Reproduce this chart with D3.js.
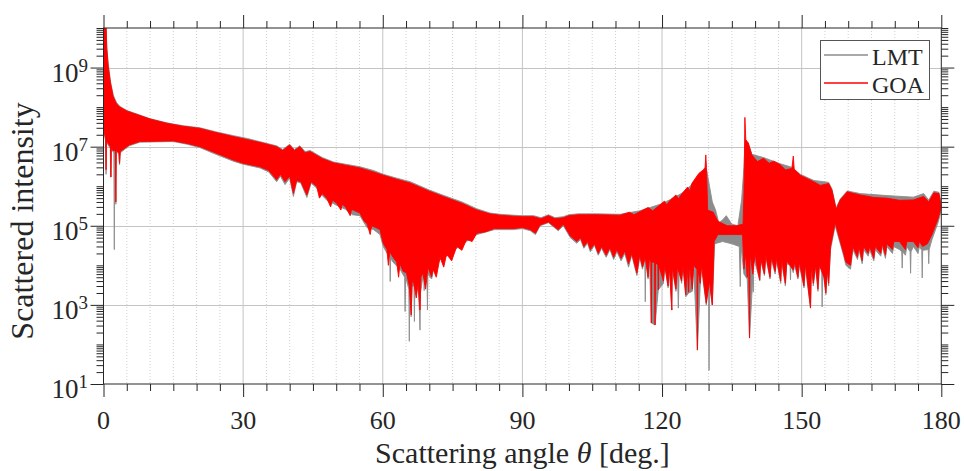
<!DOCTYPE html>
<html>
<head>
<meta charset="utf-8">
<script src="https://cdn.jsdelivr.net/npm/d3@7"></script>
<style>
  html, body { margin: 0; padding: 0; background: #fff; }
  svg { display: block; }
  text { font-family: "Liberation Serif", "Times New Roman", serif; fill: #262626; }
</style>
</head>
<body>
<div id="chart"></div>
<script>
// -------- Data (angle in deg, scattered intensity) --------
// the curves oscillate too fast to resolve, so each series is kept as its
// upper and lower envelope (spikes included)
const xTickLabels = [0, 30, 60, 90, 120, 150, 180];
const yTickExponents = [1, 3, 5, 7, 9];
const seriesNames = ['LMT', 'GOA'];

const goaUpper = [
  [0, 3e10], [0.45, 3e10], [0.7, 3e9], [1.0, 1.1e9], [1.5, 4e8], [2.1, 1.8e8], [2.8, 1.2e8],
  [3.5, 1.0e8], [5, 8e7], [6.4, 7e7], [10, 5e7], [13.6, 3.9e7], [17, 3.3e7], [20.7, 2.9e7],
  [24, 2.3e7], [27.9, 1.8e7], [31, 1.5e7], [34, 1.25e7], [37.2, 1.0e7], [38.5, 8e6], [40, 1.1e7],
  [41, 8e6], [42.2, 1.0e7], [43.3, 7e6], [44.4, 7.5e6], [47, 5e6], [49.4, 3.9e6], [52, 3.4e6],
  [55.1, 2.9e6], [58, 2.3e6], [60.1, 1.9e6], [63, 1.5e6], [65.9, 1.2e6], [70, 7.5e5], [73, 5.5e5],
  [77, 3.7e5], [80.2, 2.5e5], [83, 2.0e5], [85.2, 1.85e5], [88, 1.75e5], [90, 1.7e5], [92.4, 1.7e5],
  [94, 1.5e5], [95.6, 1.8e5], [97, 1.5e5], [98.8, 1.6e5], [100, 1.8e5], [102, 1.9e5], [106, 1.9e5],
  [111, 1.85e5], [113, 2.2e5], [114, 1.9e5], [115.3, 2.3e5], [117, 2.9e5], [118, 2.4e5],
  [119.6, 3.4e5], [120.5, 4.2e5], [121, 3.4e5], [121.8, 4.5e5], [123, 6e5], [123.5, 4.8e5],
  [124.6, 7.2e5], [125.5, 9.5e5], [126, 7.5e5], [126.4, 1.17e6], [127.9, 2.1e6], [128.9, 2.6e6],
  [129.25, 3e6], [129.4, 6.2e6], [129.55, 3e6], [129.8, 2.5e5], [131, 2.2e5], [132, 1.3e5],
  [134, 1e5], [136, 1e5], [137.4, 1.1e5], [137.6, 6e5], [137.8, 5.5e7], [138.0, 1.5e7],
  [138.5, 1.25e7], [139.3, 6.2e6], [140.5, 4.2e6], [141.8, 5.1e6], [143, 3.8e6], [144, 4.3e6],
  [145.4, 3.5e6], [146.5, 2.6e6], [147.9, 2.8e6], [148.2, 5.8e6], [148.4, 2.7e6], [149.7, 1.9e6],
  [151, 1.6e6], [152.6, 1.3e6], [154, 1.05e6], [155.8, 1.17e6], [156.5, 8e5], [157.4, 2.6e5],
  [158.3, 4.5e5], [159.8, 7.2e5], [162.6, 6e5], [165.5, 5.2e5], [168.3, 5e5], [171, 4.4e5],
  [174, 4.5e5], [176.2, 5.5e5], [177.3, 4e5], [178.4, 6.8e5], [179.5, 6.5e5], [180, 3e5]
];

const goaLower = [
  [0, 3e7], [0.45, 1.5e7], [0.55, 2.6e6], [0.65, 1.5e7], [1.0, 1.2e7], [1.5, 1.0e7], [1.6, 1.7e6],
  [1.7, 1.0e7], [2.0, 8e6], [2.55, 8e6], [2.65, 4e5], [2.75, 8e6], [3.3, 7e6], [3.45, 3.8e6],
  [3.6, 7.5e6], [4.5, 9e6], [5.5, 1.1e7], [7.8, 1.35e7], [15, 1.4e7], [18, 1.2e7], [20.7, 1.0e7],
  [24, 7e6], [27.9, 4.6e6], [30, 3.8e6], [33.6, 3.1e6], [35.5, 2.5e6], [37.2, 1.45e6], [38, 2e6],
  [39, 1.3e6], [40, 1.8e6], [40.8, 6.6e5], [41.5, 1.4e6], [42.4, 1.3e6], [43.7, 6e5], [44.6, 1.3e6],
  [45.8, 9.8e5], [46.4, 5e5], [47, 6.5e5], [48, 4.9e5], [48.8, 3e5], [49.2, 4.5e5], [50.1, 3.7e5],
  [51, 2.5e5], [51.3, 3.5e5], [52, 3e5], [53, 1.8e5], [53.3, 2.6e5], [55.1, 2.1e5], [56, 1.3e5],
  [56.6, 1.15e5], [57.3, 6e4], [57.6, 1e5], [58.5, 9e4], [59.4, 8e4], [60.1, 3.6e4], [60.9, 2.5e4],
  [61.2, 1e4], [61.5, 2.2e4], [62.2, 1.6e4], [63, 1.2e4], [63.4, 5e3], [63.7, 1.1e4], [64.4, 7e3],
  [65.1, 6.5e3], [65.7, 3e3], [66.1, 5.6e2], [66.3, 3.5e3], [66.5, 4.6e3], [67.2, 1.5e3],
  [67.6, 3.5e3], [68.0, 7.4e2], [68.2, 5e3], [68.6, 6.5e3], [69.2, 2.5e3], [69.7, 9e3], [70.5, 5.1e3],
  [70.8, 8e3], [71.5, 5e3], [72.3, 1.6e4], [73.1, 9e3], [73.7, 1.9e4], [74.8, 1.3e4], [75.9, 3e4],
  [77, 2.4e4], [78, 4.5e4], [79.2, 4e4], [80.2, 6.5e4], [82, 7e4], [84, 8.5e4], [88, 8.5e4],
  [90, 9e4], [91.7, 8e4], [92.8, 6.5e4], [93.8, 1.05e5], [95.6, 1.25e5], [97.7, 8e4], [98.8, 1.1e5],
  [100.3, 5.5e4], [101.7, 4e4], [102.5, 5e4], [103.2, 3e4], [104, 4e4], [104.6, 2.5e4], [105.5, 3.5e4],
  [106.3, 2e4], [107, 3e4], [108, 1.8e4], [108.8, 2.8e4], [109.6, 1.6e4], [110.3, 2.5e4],
  [111.2, 1.5e4], [112, 2.3e4], [112.8, 1.1e4], [113.5, 2e4], [114.6, 6.3e3], [115.2, 1.8e4],
  [115.8, 9e3], [116.4, 1.6e4], [117, 5e3], [117.3, 1.5e4], [117.6, 1.2e4], [117.7, 3.5e2],
  [117.8, 1.2e4], [118.4, 1.2e4], [118.5, 3.1e2], [118.6, 1.2e4], [119.1, 1e4], [119.2, 2.4e3],
  [119.3, 1e4], [120.3, 4e3], [120.6, 1e4], [121.3, 3e3], [121.6, 9e3], [122.1, 7.4e2], [122.2, 9e3],
  [123, 2.5e3], [123.3, 9e3], [124.2, 4e3], [124.5, 1e4], [125.1, 1.8e3], [125.4, 1e4], [125.7, 2.1e3],
  [125.9, 1e4], [126.5, 2.5e3], [126.8, 1e4], [127.5, 8e3], [127.6, 72], [127.7, 8e3], [128.2, 3.5e3],
  [128.5, 1e4], [128.9, 4e3], [129.5, 1.1e3], [130.2, 4e3], [130.8, 1e3], [131.2, 4e4], [132, 6e4],
  [135, 6e4], [137.3, 6e4], [137.6, 8e3], [138, 2e4], [138.3, 5e3], [138.6, 2e4], [138.8, 145],
  [138.9, 2e4], [139.5, 6e3], [140, 2e4], [140.5, 8e3], [141, 4.3e3], [141.2, 1.5e4], [142, 6e3],
  [142.3, 1.8e4], [143.2, 5e3], [143.5, 1.6e4], [144.3, 7e3], [144.6, 1.5e4], [145.5, 4e3],
  [145.7, 1.4e4], [146.5, 3.5e3], [146.8, 1.3e4], [148.2, 7.6e3], [148.5, 1.2e4], [149.2, 5e3],
  [149.5, 1.2e4], [150.5, 3e3], [150.8, 1.1e4], [151.9, 8.3e2], [152.1, 1e4], [152.5, 3.5e3],
  [153, 1e4], [153.5, 2.5e3], [153.8, 1e4], [154.8, 5e3], [155.2, 2e3], [155.5, 8e3], [155.8, 3.5e3],
  [156.2, 3e4], [157.2, 1.2e5], [158.3, 4e4], [159, 2e4], [159.5, 1.2e4], [160.5, 1e4], [161, 3e4],
  [162, 1.6e4], [162.3, 3e4], [163, 1.3e4], [163.3, 3e4], [164.3, 2e4], [164.6, 3e4], [165.5, 1.5e4],
  [165.8, 3e4], [167, 2e4], [167.3, 3.5e4], [168, 1.8e4], [168.3, 3.5e4], [169.5, 2.5e4],
  [169.8, 4e4], [171, 4e4], [172.3, 2.5e4], [172.6, 4e4], [174, 4e4], [175, 2.8e4], [175.3, 4e4],
  [176, 3e4], [177, 3.5e4], [178, 6e4], [179.3, 1.5e5], [180, 3e5]
];

const lmtUpper = [
  [0, 3e10], [0.45, 3e10], [0.7, 3.5e9], [1.0, 1.3e9], [1.5, 4.5e8], [2.1, 2e8], [2.8, 1.3e8],
  [3.5, 1.05e8], [5, 8.2e7], [6.4, 7.2e7], [10, 5.1e7], [13.6, 4e7], [17, 3.4e7], [20.7, 3e7],
  [24, 2.4e7], [27.9, 1.9e7], [31, 1.6e7], [34, 1.3e7], [37.2, 1.05e7], [38.5, 8.5e6], [40, 1.15e7],
  [41, 8.5e6], [42.2, 1.05e7], [43.3, 7.5e6], [44.4, 8e6], [47, 5.3e6], [49.4, 4.1e6], [52, 3.6e6],
  [55.1, 3.1e6], [58, 2.5e6], [60.1, 2e6], [63, 1.6e6], [65.9, 1.3e6], [70, 8e5], [73, 5.9e5],
  [77, 4e5], [80.2, 2.7e5], [83, 2.1e5], [85.2, 1.95e5], [88, 1.85e5], [90, 1.8e5], [92.4, 1.8e5],
  [94, 1.6e5], [95.6, 1.9e5], [97, 1.6e5], [98.8, 1.7e5], [100, 1.9e5], [102, 2e5], [106, 2e5],
  [111, 1.95e5], [115.3, 2.4e5], [119.6, 3.5e5], [121.8, 4.6e5], [124.6, 7e5], [126.4, 1.1e6],
  [127.9, 2e6], [128.9, 2.6e6], [129.6, 2.5e6], [130.2, 1e6], [130.8, 4e5], [131.5, 2.5e5],
  [132.2, 1.2e5], [133, 1.4e5], [133.8, 1.8e5], [135, 1.1e5], [136.3, 1.0e5], [137.1, 4.5e5],
  [137.6, 3e6], [137.8, 1e7], [138.0, 1.3e7], [138.5, 1.25e7], [139.3, 6.4e6], [141.8, 5.3e6],
  [145.4, 3.7e6], [147.9, 3e6], [149.7, 2e6], [152.6, 1.4e6], [155.8, 1.25e6], [156.5, 8.5e5],
  [157.4, 2.8e5], [158.3, 4.8e5], [159.8, 7.6e5], [162.6, 6.5e5], [168.3, 5.8e5], [174, 5.3e5],
  [176.2, 6.5e5], [177.3, 4.5e5], [178.4, 7.5e5], [179.5, 7e5], [180, 3.5e5]
];

const lmtLower = [
  [0, 3e7], [0.45, 1.4e7], [0.55, 2e6], [0.65, 1.4e7], [1.0, 1.1e7], [1.45, 9e6], [1.55, 1.7e6],
  [1.65, 9e6], [2.0, 7.5e6], [2.22, 7e6], [2.32, 2.5e4], [2.42, 7e6], [2.55, 7e6], [2.65, 3.5e5],
  [2.75, 7.5e6], [3.3, 6.5e6], [3.45, 3.5e6], [3.6, 7e6], [4.5, 8.5e6], [5.5, 1.05e7], [7.8, 1.3e7],
  [15, 1.35e7], [18, 1.15e7], [20.7, 9.5e6], [24, 6.5e6], [27.9, 4.3e6], [30, 3.6e6], [33.6, 2.9e6],
  [35.5, 2.3e6], [37.2, 1.3e6], [38, 1.8e6], [39, 1.1e6], [40, 1.6e6], [40.8, 5.5e5], [41.5, 1.3e6],
  [42.4, 1.2e6], [43.7, 5.2e5], [44.6, 1.2e6], [45.8, 9e5], [47, 5.8e5], [48, 4.4e5], [50.1, 3.3e5],
  [52, 2.6e5], [53.5, 1.9e5], [55.1, 1.8e5], [56.6, 9e4], [58, 8e4], [59.4, 6e4], [60.1, 3e4],
  [61.5, 1.5e4], [61.6, 3.9e3], [61.7, 1.5e4], [62.2, 1.2e4], [63.7, 8e3], [64.7, 5e3], [64.8, 6.8e2],
  [64.9, 5e3], [65.6, 2.5e3], [65.7, 1.2e2], [65.8, 2.5e3], [66.1, 5e2], [66.3, 3e3], [66.7, 3e3],
  [66.8, 3.8e2], [66.9, 3e3], [67.6, 3e3], [67.9, 6e2], [68.0, 2.3e2], [68.1, 2e3], [68.6, 5e3],
  [68.8, 5e3], [68.9, 2.3e3], [69.0, 6e3], [69.5, 5e3], [69.6, 7.4e2], [69.7, 6e3], [70.5, 4.5e3],
  [70.8, 7e3], [72.3, 1.4e4], [73.7, 1.7e4], [75.9, 2.7e4], [78, 4e4], [80.2, 6e4], [84, 8e4],
  [88, 8e4], [90, 8.5e4], [91.7, 7.5e4], [92.8, 6e4], [93.8, 1e5], [95.6, 1.2e5], [97.7, 7.5e4],
  [98.8, 1e5], [100.3, 5e4], [101.7, 3.6e4], [102.5, 4.5e4], [103.2, 2.7e4], [104, 3.6e4],
  [104.6, 2.2e4], [105.5, 3.2e4], [106.3, 1.8e4], [107, 2.7e4], [108, 1.6e4], [108.8, 2.5e4],
  [109.6, 1.4e4], [110.3, 2.2e4], [111.2, 1.3e4], [112, 2e4], [112.8, 9e3], [113.5, 1.8e4],
  [114.6, 5.5e3], [115.2, 1.6e4], [115.8, 8e3], [116.3, 1.4e4], [116.4, 1.2e3], [116.5, 1.4e4],
  [117, 4.5e3], [117.3, 1.3e4], [117.7, 3.5e2], [118.5, 3.1e2], [119.2, 2.4e3], [120.3, 3.5e3],
  [120.6, 9e3], [121.3, 2.7e3], [121.6, 8e3], [122.1, 7.4e2], [122.2, 8e3], [123, 2.2e3], [123.3, 8e3],
  [123.5, 8.3e2], [123.7, 8e3], [124.2, 3.5e3], [124.5, 9e3], [125.1, 1.6e3], [125.7, 2e3],
  [126.5, 2.2e3], [126.8, 9e3], [127.6, 72], [128.2, 3e3], [128.5, 9e3], [128.9, 3.5e3], [129.5, 1e3],
  [130.0, 3e3], [130.1, 22], [130.2, 3e3], [130.8, 1e3], [131.3, 3.5e4], [133, 4e4], [135, 3.5e4],
  [136.6, 3e4], [136.8, 2.9e3], [137.0, 3e4], [137.6, 6e3], [138.3, 4.5e3], [138.8, 145],
  [139.5, 5e3], [139.6, 2.1e3], [139.7, 1.5e4], [140.5, 7e3], [141, 4e3], [141.2, 1.3e4],
  [142, 5.5e3], [142.3, 1.6e4], [143.2, 4.5e3], [143.5, 1.4e4], [144.3, 6e3], [144.6, 1.3e4],
  [145.5, 3.5e3], [145.7, 1.2e4], [146.5, 3e3], [146.8, 1.1e4], [147.5, 1e4], [147.6, 4.3e3],
  [147.7, 1e4], [148.2, 6.5e3], [148.5, 1e4], [149.2, 4.5e3], [149.5, 1e4], [150.5, 2.7e3],
  [150.8, 9e3], [151.9, 8.3e2], [152.1, 9e3], [152.5, 3e3], [153, 9e3], [153.5, 2.2e3], [153.8, 9e3],
  [154.3, 8e3], [154.4, 8.9e2], [154.5, 8e3], [154.8, 4.5e3], [155.2, 1.8e3], [155.5, 7e3],
  [155.8, 3e3], [156.2, 2.5e4], [157.2, 1e5], [158.3, 3.5e4], [159, 1.8e4], [159.5, 1e4],
  [160.5, 8e3], [161, 2.5e4], [162, 1.4e4], [162.3, 2.5e4], [163, 1.1e4], [163.3, 2.5e4],
  [164.3, 1.7e4], [164.6, 2.5e4], [165.5, 1.3e4], [165.8, 2.5e4], [167, 1.7e4], [167.3, 3e4],
  [168, 1.5e4], [168.3, 3e4], [169.5, 2e4], [169.8, 3e4], [171, 2.5e4], [171.5, 2.2e4],
  [171.6, 8.5e3], [171.7, 2.2e4], [172.3, 1.8e4], [172.6, 3e4], [173.3, 2.2e4], [173.4, 6.3e3],
  [173.5, 2.2e4], [174, 3e4], [175, 2e4], [175.3, 3e4], [175.8, 2.4e4], [175.9, 4.8e3],
  [176.0, 2.4e4], [177.2, 2.5e4], [177.3, 1.1e4], [177.4, 2.5e4], [178, 4.5e4], [179.3, 1.2e5],
  [180, 2.5e5]
];

const seriesColors = ['#8c8c8c', '#ff0000'];

// -------- Layout --------
const svgWidth = 964, svgHeight = 471;
const plot = { left: 103.5, right: 941.3, top: 28, bottom: 384 };
const axisColor = '#262626';

const svg = d3.select('#chart')
  .append('svg')
    .attr('width', svgWidth)
    .attr('height', svgHeight);

// -------- Scales --------
const x = d3.scaleLinear().domain([0, 180]).range([plot.left, plot.right]);
const y = d3.scaleLog().domain([1e1, 1e10]).range([plot.bottom, plot.top]);

const xMinor = d3.range(0, 181, 5);
const yMinor = [];
for (let k = 1; k <= 9; k++) for (let m = 1; m <= 9; m++) yMinor.push(m * Math.pow(10, k));
yMinor.push(1e10);
const yMajor = yTickExponents.map(e => Math.pow(10, e));

// -------- Grid --------
const grid = svg.append('g');
grid.selectAll('line.xminor')
  .data(xMinor.filter(d => !xTickLabels.includes(d)))
  .join('line')
    .attr('x1', d => x(d)).attr('x2', d => x(d))
    .attr('y1', plot.top).attr('y2', plot.bottom)
    .attr('stroke', '#cfcfcf').attr('stroke-width', 1)
    .attr('stroke-dasharray', '1,2');
grid.selectAll('line.xmajor')
  .data(xTickLabels.slice(1, -1))
  .join('line')
    .attr('x1', d => x(d)).attr('x2', d => x(d))
    .attr('y1', plot.top).attr('y2', plot.bottom)
    .attr('stroke', '#c4c4c4').attr('stroke-width', 1);
grid.selectAll('line.ymajor')
  .data(yMajor.slice(1))
  .join('line')
    .attr('x1', plot.left).attr('x2', plot.right)
    .attr('y1', d => Math.round(y(d)) + 0.5).attr('y2', d => Math.round(y(d)) + 0.5)
    .attr('stroke', '#c4c4c4').attr('stroke-width', 1);

// -------- Curves (envelope bands) --------
svg.append('clipPath').attr('id', 'clip')
  .append('rect')
    .attr('x', plot.left).attr('y', plot.top)
    .attr('width', plot.right - plot.left).attr('height', plot.bottom - plot.top);

const line = d3.line().x(d => x(d[0])).y(d => y(d[1]));
const band = (upper, lower) => line(upper.concat(lower.slice().reverse())) + 'Z';

const bands = [[lmtUpper, lmtLower], [goaUpper, goaLower]];
svg.append('g')
    .attr('clip-path', 'url(#clip)')
  .selectAll('path')
  .data(bands)
  .join('path')
    .attr('d', d => band(d[0], d[1]))
    .attr('fill', (d, i) => seriesColors[i])
    .attr('stroke', (d, i) => seriesColors[i])
    .attr('stroke-width', 0.9)
    .attr('stroke-linejoin', 'miter');

// -------- Axes --------
const majorLen = 13, minorLen = 7;
const isMajorX = d => xTickLabels.includes(d);
const isMajorY = d => yMajor.includes(d);

function styleAxis(g, isMajor, horizontal) {
  g.select('.domain').remove();
  g.selectAll('.tick line')
    .attr('stroke', axisColor)
    .attr(horizontal ? 'y2' : 'x2', function (d) {
      const sign = +d3.select(this).attr(horizontal ? 'y2' : 'x2') < 0 ? -1 : 1;
      return sign * (isMajor(d) ? majorLen : minorLen);
    });
  g.selectAll('.tick text').remove();
}

svg.append('g')
    .attr('transform', `translate(0,${plot.bottom})`)
    .call(d3.axisBottom(x).tickValues(xMinor).tickSize(minorLen))
    .call(g => styleAxis(g, isMajorX, true));
svg.append('g')
    .attr('transform', `translate(0,${plot.top})`)
    .call(d3.axisTop(x).tickValues(xMinor).tickSize(minorLen))
    .call(g => styleAxis(g, isMajorX, true));
svg.append('g')
    .attr('transform', `translate(${plot.left},0)`)
    .call(d3.axisLeft(y).tickValues(yMinor).tickSize(minorLen))
    .call(g => styleAxis(g, isMajorY, false));
svg.append('g')
    .attr('transform', `translate(${plot.right},0)`)
    .call(d3.axisRight(y).tickValues(yMinor).tickSize(minorLen))
    .call(g => styleAxis(g, isMajorY, false));

// box
svg.append('rect')
    .attr('x', plot.left).attr('y', plot.top)
    .attr('width', plot.right - plot.left).attr('height', plot.bottom - plot.top)
    .attr('fill', 'none').attr('stroke', axisColor).attr('stroke-width', 1);

// tick labels
svg.append('g').selectAll('text')
  .data(xTickLabels)
  .join('text')
    .attr('x', d => x(d))
    .attr('y', plot.bottom + 45)
    .attr('text-anchor', 'middle')
    .style('font-size', '26px')
    .text(d => d);

const yLabels = svg.append('g').selectAll('text')
  .data(yTickExponents)
  .join('text')
    .attr('x', 88)
    .attr('y', d => y(Math.pow(10, d)) + 14)
    .attr('text-anchor', 'end')
    .style('font-size', '27px');
yLabels.append('tspan').text('10');
yLabels.append('tspan')
    .attr('dy', -10)
    .style('font-size', '19px')
    .text(d => d);

// axis titles
svg.append('text')
    .attr('x', (plot.left + plot.right) / 2)
    .attr('y', 463)
    .attr('text-anchor', 'middle')
    .style('font-size', '30px')
  .call(t => {
    t.append('tspan').text('Scattering angle ');
    t.append('tspan').style('font-style', 'italic').text('θ');
    t.append('tspan').text(' [deg.]');
  });

svg.append('text')
    .attr('transform', 'translate(33,221) rotate(-90)')
    .attr('text-anchor', 'middle')
    .style('font-size', '32px')
    .text('Scattered intensity');

// -------- Legend --------
const legend = svg.append('g');
legend.append('rect')
    .attr('x', 820.5).attr('y', 40.5)
    .attr('width', 109).attr('height', 59)
    .attr('fill', '#fff').attr('stroke', '#555').attr('stroke-width', 1);

legend.selectAll('g.legend-item')
  .data(seriesNames)
  .join('g')
    .attr('class', 'legend-item')
    .attr('transform', (d, i) => `translate(0, ${55 + i * 28})`)
  .call(g => {
    g.append('line')
      .attr('x1', 824).attr('x2', 868)
      .attr('stroke', (d, i) => seriesColors[i])
      .attr('stroke-width', 1.5);
    g.append('text')
      .attr('x', 872)
      .attr('y', 10)
      .style('font-size', '24px')
      .text(d => d);
  });
</script>
</body>
</html>
